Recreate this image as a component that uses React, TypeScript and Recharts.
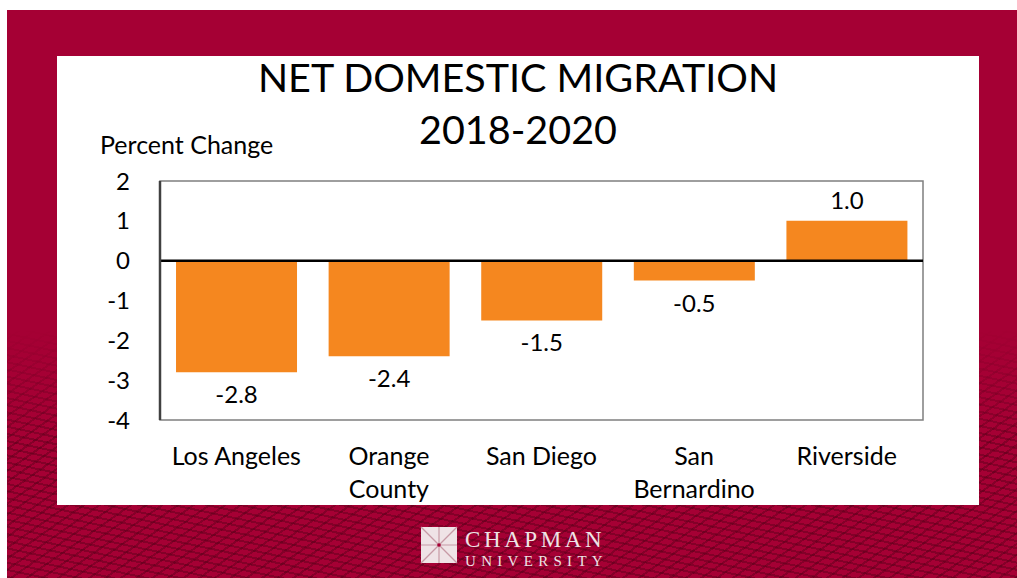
import React from "react";
import {
  BarChart,
  Bar,
  XAxis,
  YAxis,
  ReferenceLine,
  ReferenceArea,
  LabelList,
} from "recharts";

const counties = ["Los Angeles", "Orange\nCounty", "San Diego", "San\nBernardino", "Riverside"];
const percentChange = [-2.8, -2.4, -1.5, -0.5, 1.0];
const yTicks = [2, 1, 0, -1, -2, -3, -4];

const data = counties.map((name, i) => ({ name, value: percentChange[i] }));

const FONT = "Lato, 'Open Sans', sans-serif";

const CountyTick = (props: any) => {
  const { x, y, payload } = props;
  const lines = String(payload.value).split("\n");
  return (
    <text x={x} y={y} textAnchor="middle" fontFamily={FONT} fontSize={25} fill="#000">
      {lines.map((line, i) => (
        <tspan key={i} x={x} dy={i === 0 ? 37 : 33}>
          {line}
        </tspan>
      ))}
    </text>
  );
};

const ValueLabel = (props: any) => {
  const { x, y, width, height, value } = props;
  const neg = value < 0;
  // negative bars come with a negative height, so take the outer edge
  const bottom = Math.max(y, y + height);
  const top = Math.min(y, y + height);
  const ty = neg ? bottom + 31 : top - 12;
  return (
    <text x={x + width / 2} y={ty} textAnchor="middle" fontFamily={FONT} fontSize={24} fill="#000">
      {value.toFixed(1)}
    </text>
  );
};

export default function App() {
  return (
    <div style={{ position: "absolute", left: 0, top: 0, width: 1017, height: 578, background: "#fff", overflow: "hidden" }}>
      {/* crimson slide */}
      <div style={{ position: "absolute", left: 7, top: 10, width: 1010, height: 568, background: "#A50034" }} />
      {/* mesh texture at the bottom */}
      <div
        style={{
          position: "absolute",
          left: 7,
          top: 330,
          width: 1010,
          height: 248,
          background:
            "repeating-linear-gradient(12deg, rgba(70,0,20,0.35) 0px, rgba(70,0,20,0.35) 2px, transparent 2px, transparent 7px), repeating-linear-gradient(-35deg, rgba(60,0,15,0.3) 0px, rgba(60,0,15,0.3) 2px, transparent 2px, transparent 9px)",
          WebkitMaskImage: "linear-gradient(to bottom, transparent 0%, #000 45%)",
          maskImage: "linear-gradient(to bottom, transparent 0%, #000 45%)",
        }}
      />
      {/* white panel */}
      <div style={{ position: "absolute", left: 57, top: 56, width: 922, height: 449, background: "#fff" }} />

      <div
        style={{
          position: "absolute",
          left: 57,
          top: 49,
          width: 922,
          textAlign: "center",
          fontFamily: FONT,
          fontSize: 39.5,
          lineHeight: "52px",
          color: "#000",
          paddingTop: 2,
        }}
      >
        NET DOMESTIC MIGRATION
        <br />
        2018-2020
      </div>
      <div style={{ position: "absolute", left: 100, top: 129, fontFamily: FONT, fontSize: 25, color: "#000" }}>
        Percent Change
      </div>

      <div style={{ position: "absolute", left: 57, top: 56 }}>
        <BarChart
          width={922}
          height={470}
          data={data}
          margin={{ top: 125, right: 56, bottom: 46, left: 63 }}
          barCategoryGap="10.5%"
        >
          <ReferenceArea y1={-4} y2={2} fill="none" stroke="#7f7f7f" strokeWidth={1.5} ifOverflow="visible" />
          <XAxis
            dataKey="name"
            axisLine={false}
            tickLine={false}
            interval={0}
            height={60}
            tick={<CountyTick />}
          />
          <YAxis
            domain={[-4, 2]}
            ticks={yTicks}
            interval={0}
            width={40}
            axisLine={{ stroke: "#404040", strokeWidth: 2.5 }}
            tickLine={false}
            tickSize={0}
            tickMargin={30}
            tick={{ fill: "#000", fontSize: 24, fontFamily: FONT }}
          />
          <Bar dataKey="value" fill="#F5871F" isAnimationActive={false}>
            <LabelList dataKey="value" content={<ValueLabel />} />
          </Bar>
          <ReferenceLine y={0} stroke="#000" strokeWidth={2.5} ifOverflow="visible" />
        </BarChart>
      </div>

      {/* logo */}
      <svg style={{ position: "absolute", left: 418, top: 524 }} width={210} height={48}>
        <rect x={3} y={3} width={36} height={36} fill="#efe3e6" />
        <g stroke="#c79aa5" strokeWidth={1.2} fill="none">
          <line x1={21} y1={3} x2={21} y2={39} />
          <line x1={3} y1={21} x2={39} y2={21} />
          <line x1={3} y1={3} x2={39} y2={39} />
          <line x1={39} y1={3} x2={3} y2={39} />
        </g>
        <circle cx={21} cy={21} r={1.8} fill="#A50034" />
        <text x={47} y={23} fontFamily="'Liberation Serif', 'DejaVu Serif', serif" fontSize={23} fill="#efe3e6" letterSpacing={3.6}>
          CHAPMAN
        </text>
        <text x={47} y={42} fontFamily="'Liberation Serif', 'DejaVu Serif', serif" fontSize={15} fill="#efe3e6" letterSpacing={5.3}>
          UNIVERSITY
        </text>
      </svg>
    </div>
  );
}
